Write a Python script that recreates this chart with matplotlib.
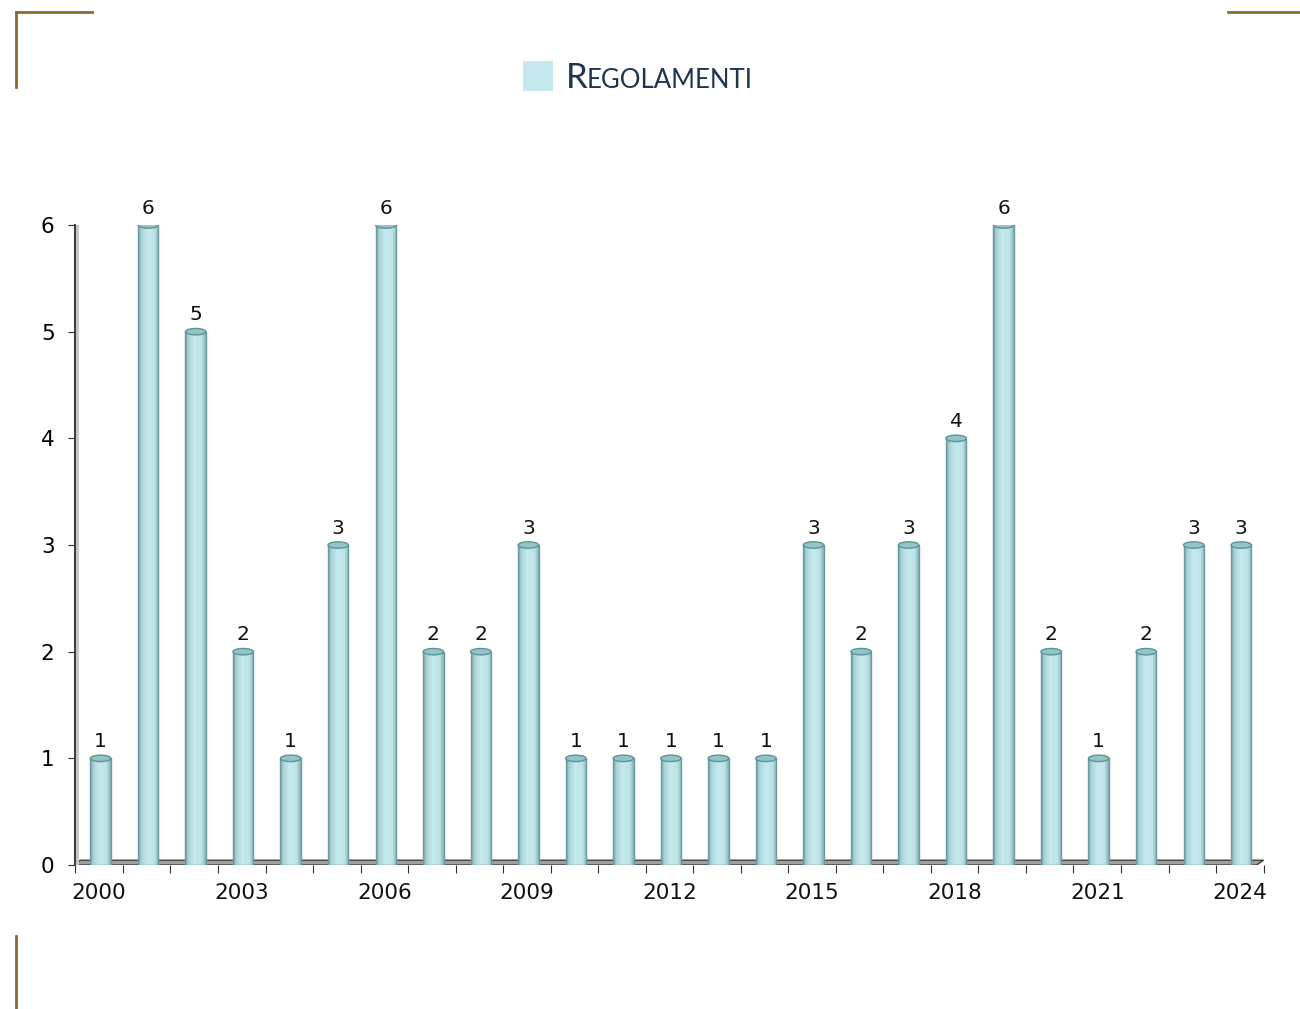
import numpy as np
import matplotlib.pyplot as plt
from matplotlib.patches import Rectangle, Ellipse, Polygon
from matplotlib.colors import LinearSegmentedColormap
from matplotlib.lines import Line2D

years = list(range(2000, 2025))
values = [1, 6, 5, 2, 1, 3, 6, 2, 2, 3, 1, 1, 1, 1, 1, 3, 2, 3, 4, 6, 2, 1, 2, 3, 3]
tick_years = [2000, 2003, 2006, 2009, 2012, 2015, 2018, 2021, 2024]

fig = plt.figure(figsize=(13, 10.09), dpi=100)
ax = fig.add_axes([0.058, 0.1427, 0.914, 0.6343])

# cylinder shading: darker edges, light body
cyl = LinearSegmentedColormap.from_list(
    "cyl", [(0, "#739fa4"), (0.15, "#a9d3d8"), (0.45, "#c6eaee"), (0.8, "#bde3e8"), (1, "#86b2b7")])
grad = np.linspace(0, 1, 64).reshape(1, -1)
w = 0.43
eh = 0.06

for i, v in enumerate(values):
    rect = Rectangle((i + 0.03 - w / 2, 0), w, v, facecolor="none", edgecolor="#6a9a9f", lw=1.0, zorder=3)
    ax.add_patch(rect)
    im = ax.imshow(grad, extent=[i + 0.03 - w / 2, i + 0.03 + w / 2, 0, v], aspect="auto", cmap=cyl, zorder=2)
    im.set_clip_path(rect)
    ax.add_patch(Ellipse((i + 0.03, v), w, eh, facecolor="#92c4c9", edgecolor="#5e9398", lw=1.0, zorder=4))
    ax.text(i + 0.03, v + 0.07, str(v), ha="center", va="bottom", fontsize=14.5, color="#111111")

# floor
floor = Polygon([(-0.5, 0), (24.35, 0), (24.5, 0.045), (-0.4, 0.045)], closed=True,
                facecolor="#a0a0a0", edgecolor="#404040", lw=1.0, zorder=1)
ax.add_patch(floor)
# wall shading on y axis
ax.add_patch(Rectangle((-0.5, 0), 0.07, 6, facecolor="#c8c8c8", edgecolor="none", zorder=1, clip_on=False))

ax.set_xlim(-0.5, 24.5)
ax.set_ylim(0, 6)
ax.set_yticks(range(0, 7))
ax.tick_params(axis="y", labelsize=15.5, length=5, color="#303030", pad=10)
ax.set_xticks(np.arange(-0.5, 25, 1))
ax.set_xticklabels([])
ax.tick_params(axis="x", length=6, color="#303030")
for y in tick_years:
    ax.text(years.index(y), -0.17, str(y), ha="center", va="top", fontsize=15.5, color="#111111")

for s in ["top", "right", "bottom"]:
    ax.spines[s].set_visible(False)
ax.spines["left"].set_color("#404040")
ax.spines["left"].set_linewidth(1.5)

# legend
fig.patches.append(Rectangle((523 / 1300, 1 - 91 / 1009), 30 / 1300, 30 / 1009,
                             transform=fig.transFigure, facecolor="#c5e8ee", edgecolor="none"))
fig.text(566 / 1300, 1 - 88 / 1009, "R", fontsize=25, color="#1f3550", family="Lato", va="baseline")
fig.text(587 / 1300, 1 - 88 / 1009, "EGOLAMENTI", fontsize=18.5, color="#1f3550", family="Lato", va="baseline")

# decorative corner lines
gold = "#8b6a2e"
for xs, ys in [([16, 92], [12, 12]), ([16, 16], [12, 87]), ([1228, 1300], [12, 12]), ([16, 16], [936, 1009])]:
    fig.add_artist(Line2D([x / 1300 for x in xs], [1 - y / 1009 for y in ys], color=gold, lw=2,
                          transform=fig.transFigure))

fig.savefig("out.png", dpi=100)
